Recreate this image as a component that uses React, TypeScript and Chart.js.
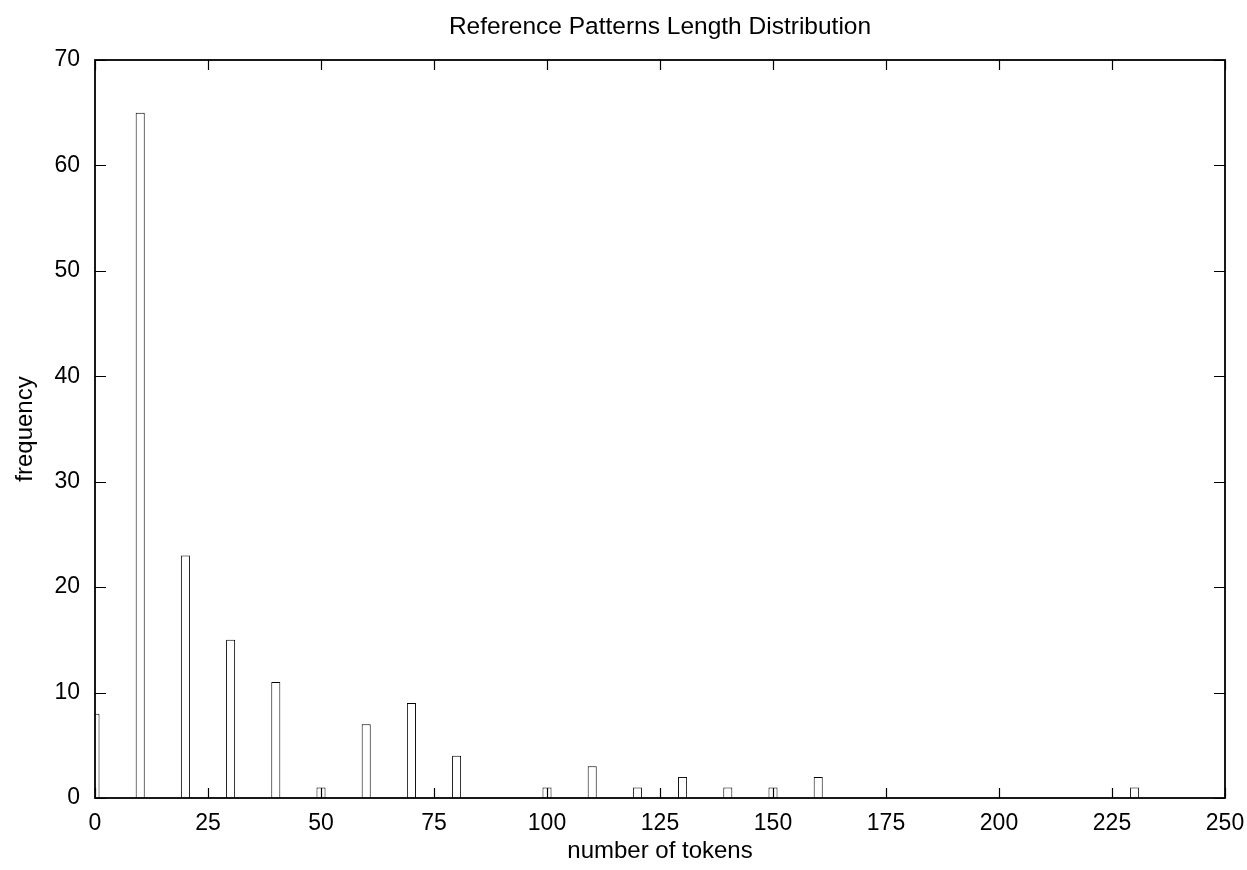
import React, { useEffect, useRef } from "react";
import { Chart, registerables } from "chart.js";

Chart.register(...registerables);

// Pattern length (tokens) and how many reference patterns have it
const tokenLengths = [0, 10, 20, 30, 40, 50, 60, 70, 80, 100, 110, 120, 130, 140, 150, 160, 230];
const frequencies = [8, 65, 23, 15, 11, 1, 7, 9, 4, 1, 3, 1, 2, 1, 1, 2, 1];

const chartTitle = "Reference Patterns Length Distribution";
const xAxisTitle = "number of tokens";
const yAxisTitle = "frequency";

const xMin = 0;
const xMax = 250;
const xStep = 25;
const yMin = 0;
const yMax = 70;
const yStep = 10;

const FONT = "'Liberation Sans', Arial, Helvetica, sans-serif";

// Gnuplot-style frame with inward tick marks on all four sides
const framePlugin = {
  id: "frameTicks",
  afterDatasetsDraw(chart: any) {
    const { ctx, chartArea } = chart;
    const { left, right, top, bottom } = chartArea;
    const xs = chart.scales.x;
    const ys = chart.scales.y;
    ctx.save();
    ctx.strokeStyle = "#000";
    ctx.lineWidth = 1.2;
    ctx.beginPath();
    xs.ticks.forEach((t: any) => {
      const px = Math.round(xs.getPixelForValue(t.value)) + 0.5;
      ctx.moveTo(px, bottom);
      ctx.lineTo(px, bottom - 10);
      ctx.moveTo(px, top);
      ctx.lineTo(px, top + 10);
    });
    ys.ticks.forEach((t: any) => {
      const py = Math.round(ys.getPixelForValue(t.value)) + 0.5;
      ctx.moveTo(left, py);
      ctx.lineTo(left + 11, py);
      ctx.moveTo(right, py);
      ctx.lineTo(right - 11, py);
    });
    ctx.stroke();
    ctx.lineWidth = 1.8;
    ctx.strokeRect(left, top, right - left, bottom - top);
    ctx.restore();
  },
};

export default function App() {
  const canvasRef = useRef<HTMLCanvasElement | null>(null);

  useEffect(() => {
    if (!canvasRef.current) return;
    const chart = new Chart(canvasRef.current, {
      type: "bar",
      data: {
        datasets: [
          {
            data: tokenLengths.map((x, i) => ({ x, y: frequencies[i] })),
            backgroundColor: "#fff",
            borderColor: "#000",
            borderWidth: 1,
            categoryPercentage: 1,
            barPercentage: 0.2,
            clip: 0,
          } as any,
        ],
      },
      options: {
        responsive: false,
        animation: false,
        devicePixelRatio: 1,
        layout: { padding: { left: 0, right: 22, top: 0, bottom: 0 } },
        plugins: {
          legend: { display: false },
          tooltip: { enabled: false },
          title: {
            display: true,
            fullSize: false,
            text: chartTitle,
            color: "#000",
            font: { family: FONT, size: 24.5, weight: "normal" },
            padding: { top: 12.3, bottom: 18.3 },
          },
        },
        scales: {
          x: {
            type: "linear",
            min: xMin,
            max: xMax,
            offset: false,
            grid: { display: false, drawTicks: false },
            border: { display: false },
            ticks: {
              stepSize: xStep,
              color: "#000",
              padding: 12,
              maxRotation: 0,
              font: { family: FONT, size: 23 },
            },
            title: {
              display: true,
              text: xAxisTitle,
              color: "#000",
              font: { family: FONT, size: 24 },
              padding: { top: 0, bottom: 4.6 },
            },
            afterFit(scale: any) {
              scale.height = 72;
              scale.paddingLeft = 0;
              scale.paddingRight = 0;
            },
          },
          y: {
            type: "linear",
            min: yMin,
            max: yMax,
            grid: { display: false, drawTicks: false },
            border: { display: false },
            ticks: {
              stepSize: yStep,
              color: "#000",
              padding: 15,
              font: { family: FONT, size: 23 },
            },
            title: {
              display: true,
              text: yAxisTitle,
              color: "#000",
              font: { family: FONT, size: 24 },
              padding: { top: 10.6, bottom: 0 },
            },
            afterFit(scale: any) {
              scale.width = 95;
              scale.paddingTop = 0;
              scale.paddingBottom = 0;
            },
          },
        },
      },
      plugins: [framePlugin],
    });
    return () => chart.destroy();
  }, []);

  return (
    <div style={{ position: "absolute", left: 0, top: 0, width: 1247, height: 870, background: "#fff" }}>
      <canvas ref={canvasRef} width={1247} height={870} style={{ display: "block" }} />
    </div>
  );
}
